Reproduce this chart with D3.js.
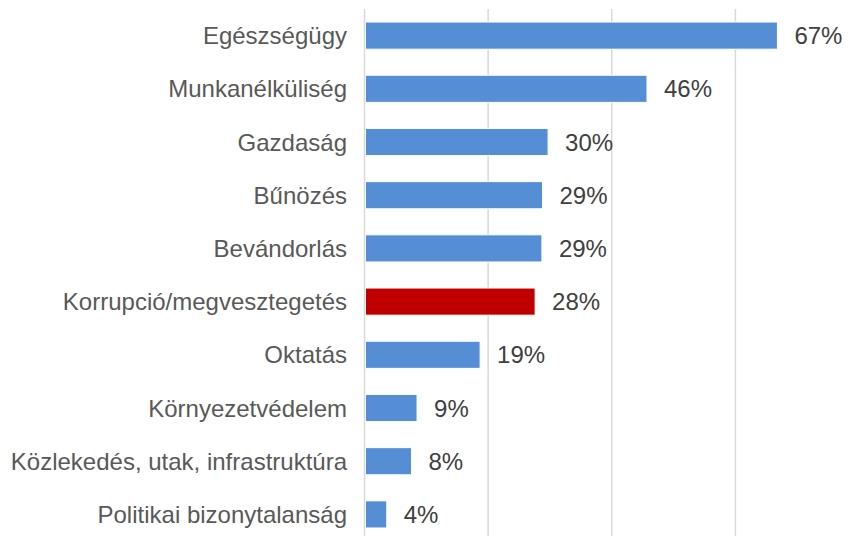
<!DOCTYPE html>
<html>
<head>
<meta charset="utf-8">
<script src="https://cdn.jsdelivr.net/npm/d3@7"></script>
<style>
  body { margin: 0; background: #fff; }
  text { font-family: 'Liberation Sans', Arial, sans-serif; }
</style>
</head>
<body>
<div id="chart"></div>
<script>
// categories top to bottom
var categories = [
  'Egészségügy',
  'Munkanélküliség',
  'Gazdaság',
  'Bűnözés',
  'Bevándorlás',
  'Korrupció/megvesztegetés',
  'Oktatás',
  'Környezetvédelem',
  'Közlekedés, utak, infrastruktúra',
  'Politikai bizonytalanság'
]
var values = [66.8, 45.7, 29.7, 28.8, 28.7, 27.6, 18.7, 8.5, 7.6, 3.6]
var highlight = ['Korrupció/megvesztegetés']
var gridTicks = [20, 40, 60]

var width = 856, height = 536

var svg = d3.select('#chart')
  .append('svg')
  .attr('width', width)
  .attr('height', height)

var x = d3.scaleLinear().domain([0, 80]).range([364.5, 859])
var y = d3.scaleBand().domain(categories).range([9, 541])
  .paddingInner(0.49).paddingOuter(0.245)

var data = categories.map(function (c, i) { return { cat: c, val: values[i] } })

// gridlines
svg.append('g')
  .selectAll('line')
  .data(gridTicks)
  .enter()
  .append('line')
  .attr('x1', function (d) { return x(d) })
  .attr('x2', function (d) { return x(d) })
  .attr('y1', 9)
  .attr('y2', height)
  .attr('stroke', '#d9d9d9')
  .attr('stroke-width', 1.5)

// bars
svg.append('g')
  .selectAll('rect')
  .data(data)
  .enter()
  .append('rect')
  .attr('x', x(0) + 1)
  .attr('y', function (d) { return y(d.cat) })
  .attr('width', function (d) { return x(d.val) - x(0) - 1 })
  .attr('height', y.bandwidth())
  .attr('fill', function (d) { return highlight.indexOf(d.cat) >= 0 ? '#c00000' : '#558ed5' })
  .attr('stroke', '#fff')
  .attr('stroke-width', 1)

// axis line
svg.append('line')
  .attr('x1', x(0)).attr('x2', x(0))
  .attr('y1', 9).attr('y2', height)
  .attr('stroke', '#d9d9d9')
  .attr('stroke-width', 1.5)

// category labels
svg.append('g')
  .selectAll('text')
  .data(data)
  .enter()
  .append('text')
  .attr('x', 347)
  .attr('y', function (d) { return y(d.cat) + y.bandwidth() / 2 })
  .attr('dy', '0.36em')
  .attr('text-anchor', 'end')
  .attr('font-size', 24)
  .attr('fill', '#595959')
  .text(function (d) { return d.cat })

// value labels
svg.append('g')
  .selectAll('text')
  .data(data)
  .enter()
  .append('text')
  .attr('x', function (d) { return x(d.val) + 17 })
  .attr('y', function (d) { return y(d.cat) + y.bandwidth() / 2 })
  .attr('dy', '0.36em')
  .attr('font-size', 24)
  .attr('fill', '#404040')
  .text(function (d) { return Math.round(d.val) + '%' })
</script>
</body>
</html>
